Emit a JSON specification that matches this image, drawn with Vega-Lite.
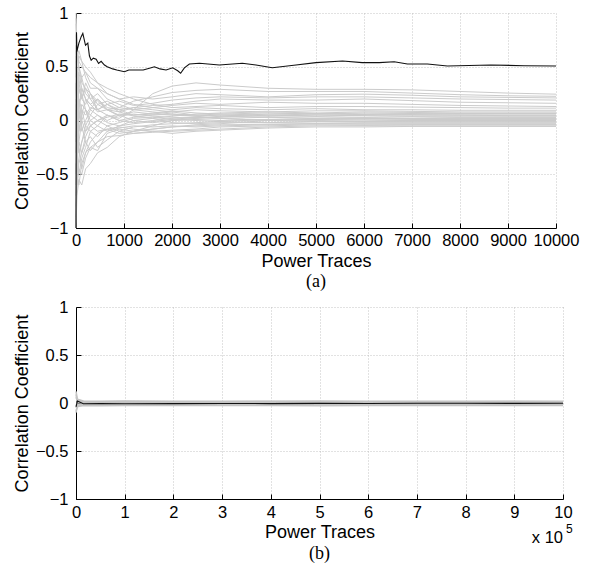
{
"$schema": "https://vega.github.io/schema/vega-lite/v6.json",
"background": "white",
"padding": {"left": 13, "top": 5, "right": 5, "bottom": 5},
"spacing": 8,
"config": {
  "view": {"stroke": null},
  "axis": {"domainColor": "black", "domainWidth": 1, "tickColor": "black", "tickSize": -5, "gridColor": "#b5b5b5", "gridDash": [1, 2], "gridWidth": 0.8,
    "labelFont": "Liberation Sans", "labelFontSize": 16.5, "labelColor": "black", "titleFont": "Liberation Sans", "titleFontSize": 18, "titleFontWeight": "normal", "titleColor": "black", "labelFlush": false}
},
"datasets": {
"topGray": [
{"s":"U1","x":0,"y":0.9},{"s":"U1","x":20,"y":0.5},{"s":"U1","x":60,"y":0.2},{"s":"U1","x":120,"y":0.0},{"s":"U1","x":200,"y":-0.1},{"s":"U1","x":300,"y":-0.05},{"s":"U1","x":450,"y":0.0},{"s":"U1","x":650,"y":0.05},{"s":"U1","x":900,"y":0.02},{"s":"U1","x":1200,"y":0.1},{"s":"U1","x":1600,"y":0.25},{"s":"U1","x":2000,"y":0.32},{"s":"U1","x":2500,"y":0.35},{"s":"U1","x":3000,"y":0.33},{"s":"U1","x":4000,"y":0.30},{"s":"U1","x":5000,"y":0.29},{"s":"U1","x":6000,"y":0.29},{"s":"U1","x":7000,"y":0.285},{"s":"U1","x":8000,"y":0.27},{"s":"U1","x":9000,"y":0.255},{"s":"U1","x":10000,"y":0.245},
{"s":"U2","x":0,"y":-0.6},{"s":"U2","x":20,"y":-0.2},{"s":"U2","x":60,"y":0.1},{"s":"U2","x":120,"y":0.3},{"s":"U2","x":200,"y":0.2},{"s":"U2","x":300,"y":0.15},{"s":"U2","x":450,"y":0.2},{"s":"U2","x":650,"y":0.1},{"s":"U2","x":900,"y":0.12},{"s":"U2","x":1200,"y":0.18},{"s":"U2","x":1600,"y":0.22},{"s":"U2","x":2000,"y":0.26},{"s":"U2","x":2500,"y":0.28},{"s":"U2","x":3000,"y":0.29},{"s":"U2","x":4000,"y":0.27},{"s":"U2","x":5000,"y":0.27},{"s":"U2","x":6000,"y":0.27},{"s":"U2","x":7000,"y":0.255},{"s":"U2","x":8000,"y":0.24},{"s":"U2","x":9000,"y":0.23},{"s":"U2","x":10000,"y":0.225},
{"s":"U3","x":0,"y":0.3},{"s":"U3","x":20,"y":0.6},{"s":"U3","x":60,"y":0.5},{"s":"U3","x":120,"y":0.4},{"s":"U3","x":200,"y":0.45},{"s":"U3","x":300,"y":0.35},{"s":"U3","x":450,"y":0.3},{"s":"U3","x":650,"y":0.25},{"s":"U3","x":900,"y":0.2},{"s":"U3","x":1200,"y":0.22},{"s":"U3","x":1600,"y":0.2},{"s":"U3","x":2000,"y":0.22},{"s":"U3","x":2500,"y":0.25},{"s":"U3","x":3000,"y":0.24},{"s":"U3","x":4000,"y":0.22},{"s":"U3","x":5000,"y":0.24},{"s":"U3","x":6000,"y":0.245},{"s":"U3","x":7000,"y":0.235},{"s":"U3","x":8000,"y":0.22},{"s":"U3","x":9000,"y":0.215},{"s":"U3","x":10000,"y":0.21},
{"s":"U4","x":0,"y":-1.0},{"s":"U4","x":20,"y":-0.4},{"s":"U4","x":60,"y":-0.1},{"s":"U4","x":120,"y":0.1},{"s":"U4","x":200,"y":0.05},{"s":"U4","x":300,"y":0.12},{"s":"U4","x":450,"y":0.1},{"s":"U4","x":650,"y":0.15},{"s":"U4","x":900,"y":0.18},{"s":"U4","x":1200,"y":0.14},{"s":"U4","x":1600,"y":0.16},{"s":"U4","x":2000,"y":0.19},{"s":"U4","x":2500,"y":0.21},{"s":"U4","x":3000,"y":0.22},{"s":"U4","x":4000,"y":0.21},{"s":"U4","x":5000,"y":0.22},{"s":"U4","x":6000,"y":0.22},{"s":"U4","x":7000,"y":0.21},{"s":"U4","x":8000,"y":0.2},{"s":"U4","x":9000,"y":0.195},{"s":"U4","x":10000,"y":0.19},
{"s":"U5","x":0,"y":0.7},{"s":"U5","x":20,"y":0.3},{"s":"U5","x":60,"y":0.4},{"s":"U5","x":120,"y":0.2},{"s":"U5","x":200,"y":0.3},{"s":"U5","x":300,"y":0.25},{"s":"U5","x":450,"y":0.18},{"s":"U5","x":650,"y":0.1},{"s":"U5","x":900,"y":0.08},{"s":"U5","x":1200,"y":0.12},{"s":"U5","x":1600,"y":0.14},{"s":"U5","x":2000,"y":0.15},{"s":"U5","x":2500,"y":0.18},{"s":"U5","x":3000,"y":0.2},{"s":"U5","x":4000,"y":0.19},{"s":"U5","x":5000,"y":0.19},{"s":"U5","x":6000,"y":0.2},{"s":"U5","x":7000,"y":0.185},{"s":"U5","x":8000,"y":0.17},{"s":"U5","x":9000,"y":0.165},{"s":"U5","x":10000,"y":0.16},
{"s":"U6","x":0,"y":0.1},{"s":"U6","x":20,"y":-0.3},{"s":"U6","x":60,"y":-0.2},{"s":"U6","x":120,"y":0.0},{"s":"U6","x":200,"y":0.1},{"s":"U6","x":300,"y":0.05},{"s":"U6","x":450,"y":0.15},{"s":"U6","x":650,"y":0.18},{"s":"U6","x":900,"y":0.12},{"s":"U6","x":1200,"y":0.1},{"s":"U6","x":1600,"y":0.12},{"s":"U6","x":2000,"y":0.14},{"s":"U6","x":2500,"y":0.16},{"s":"U6","x":3000,"y":0.15},{"s":"U6","x":4000,"y":0.17},{"s":"U6","x":5000,"y":0.16},{"s":"U6","x":6000,"y":0.16},{"s":"U6","x":7000,"y":0.15},{"s":"U6","x":8000,"y":0.14},{"s":"U6","x":9000,"y":0.135},{"s":"U6","x":10000,"y":0.13},
{"s":"U7","x":0,"y":1.0},{"s":"U7","x":20,"y":0.7},{"s":"U7","x":60,"y":0.55},{"s":"U7","x":120,"y":0.5},{"s":"U7","x":200,"y":0.45},{"s":"U7","x":300,"y":0.4},{"s":"U7","x":450,"y":0.35},{"s":"U7","x":650,"y":0.3},{"s":"U7","x":900,"y":0.25},{"s":"U7","x":1200,"y":0.2},{"s":"U7","x":1600,"y":0.15},{"s":"U7","x":2000,"y":0.12},{"s":"U7","x":2500,"y":0.13},{"s":"U7","x":3000,"y":0.14},{"s":"U7","x":4000,"y":0.12},{"s":"U7","x":5000,"y":0.13},{"s":"U7","x":6000,"y":0.13},{"s":"U7","x":7000,"y":0.125},{"s":"U7","x":8000,"y":0.12},{"s":"U7","x":9000,"y":0.115},{"s":"U7","x":10000,"y":0.115},
{"s":"D1","x":0,"y":-0.3},{"s":"D1","x":20,"y":0.2},{"s":"D1","x":60,"y":0.6},{"s":"D1","x":120,"y":0.55},{"s":"D1","x":200,"y":0.5},{"s":"D1","x":300,"y":0.45},{"s":"D1","x":450,"y":0.35},{"s":"D1","x":650,"y":0.25},{"s":"D1","x":900,"y":0.2},{"s":"D1","x":1200,"y":0.15},{"s":"D1","x":1600,"y":0.12},{"s":"D1","x":2000,"y":0.1},{"s":"D1","x":2500,"y":0.12},{"s":"D1","x":3000,"y":0.11},{"s":"D1","x":4000,"y":0.1},{"s":"D1","x":5000,"y":0.11},{"s":"D1","x":6000,"y":0.1},{"s":"D1","x":7000,"y":0.1},{"s":"D1","x":8000,"y":0.095},{"s":"D1","x":9000,"y":0.095},{"s":"D1","x":10000,"y":0.095},
{"s":"D2","x":0,"y":0.5},{"s":"D2","x":20,"y":0.4},{"s":"D2","x":60,"y":0.1},{"s":"D2","x":120,"y":-0.1},{"s":"D2","x":200,"y":0.0},{"s":"D2","x":300,"y":0.1},{"s":"D2","x":450,"y":0.05},{"s":"D2","x":650,"y":0.0},{"s":"D2","x":900,"y":0.05},{"s":"D2","x":1200,"y":0.08},{"s":"D2","x":1600,"y":0.06},{"s":"D2","x":2000,"y":0.08},{"s":"D2","x":2500,"y":0.1},{"s":"D2","x":3000,"y":0.09},{"s":"D2","x":4000,"y":0.08},{"s":"D2","x":5000,"y":0.09},{"s":"D2","x":6000,"y":0.09},{"s":"D2","x":7000,"y":0.085},{"s":"D2","x":8000,"y":0.08},{"s":"D2","x":9000,"y":0.08},{"s":"D2","x":10000,"y":0.08},
{"s":"D3","x":0,"y":-0.8},{"s":"D3","x":20,"y":-0.5},{"s":"D3","x":60,"y":-0.6},{"s":"D3","x":120,"y":-0.4},{"s":"D3","x":200,"y":-0.3},{"s":"D3","x":300,"y":-0.25},{"s":"D3","x":450,"y":-0.2},{"s":"D3","x":650,"y":-0.1},{"s":"D3","x":900,"y":-0.05},{"s":"D3","x":1200,"y":0.0},{"s":"D3","x":1600,"y":0.02},{"s":"D3","x":2000,"y":0.04},{"s":"D3","x":2500,"y":0.06},{"s":"D3","x":3000,"y":0.07},{"s":"D3","x":4000,"y":0.08},{"s":"D3","x":5000,"y":0.07},{"s":"D3","x":6000,"y":0.08},{"s":"D3","x":7000,"y":0.075},{"s":"D3","x":8000,"y":0.07},{"s":"D3","x":9000,"y":0.07},{"s":"D3","x":10000,"y":0.07},
{"s":"D4","x":0,"y":0.95},{"s":"D4","x":20,"y":0.6},{"s":"D4","x":60,"y":0.65},{"s":"D4","x":120,"y":0.55},{"s":"D4","x":200,"y":0.4},{"s":"D4","x":300,"y":0.3},{"s":"D4","x":450,"y":0.3},{"s":"D4","x":650,"y":0.2},{"s":"D4","x":900,"y":0.15},{"s":"D4","x":1200,"y":0.1},{"s":"D4","x":1600,"y":0.08},{"s":"D4","x":2000,"y":0.06},{"s":"D4","x":2500,"y":0.05},{"s":"D4","x":3000,"y":0.06},{"s":"D4","x":4000,"y":0.07},{"s":"D4","x":5000,"y":0.06},{"s":"D4","x":6000,"y":0.07},{"s":"D4","x":7000,"y":0.065},{"s":"D4","x":8000,"y":0.06},{"s":"D4","x":9000,"y":0.06},{"s":"D4","x":10000,"y":0.06},
{"s":"D5","x":0,"y":-0.9},{"s":"D5","x":20,"y":-0.6},{"s":"D5","x":60,"y":-0.45},{"s":"D5","x":120,"y":-0.5},{"s":"D5","x":200,"y":-0.35},{"s":"D5","x":300,"y":-0.25},{"s":"D5","x":450,"y":-0.28},{"s":"D5","x":650,"y":-0.12},{"s":"D5","x":900,"y":-0.08},{"s":"D5","x":1200,"y":-0.1},{"s":"D5","x":1600,"y":-0.05},{"s":"D5","x":2000,"y":0.0},{"s":"D5","x":2500,"y":0.02},{"s":"D5","x":3000,"y":0.03},{"s":"D5","x":4000,"y":0.05},{"s":"D5","x":5000,"y":0.04},{"s":"D5","x":6000,"y":0.05},{"s":"D5","x":7000,"y":0.055},{"s":"D5","x":8000,"y":0.05},{"s":"D5","x":9000,"y":0.05},{"s":"D5","x":10000,"y":0.05},
{"s":"D6","x":0,"y":0.2},{"s":"D6","x":20,"y":0.0},{"s":"D6","x":60,"y":0.3},{"s":"D6","x":120,"y":0.4},{"s":"D6","x":200,"y":0.25},{"s":"D6","x":300,"y":0.2},{"s":"D6","x":450,"y":0.1},{"s":"D6","x":650,"y":0.15},{"s":"D6","x":900,"y":0.1},{"s":"D6","x":1200,"y":0.05},{"s":"D6","x":1600,"y":0.06},{"s":"D6","x":2000,"y":0.05},{"s":"D6","x":2500,"y":0.04},{"s":"D6","x":3000,"y":0.05},{"s":"D6","x":4000,"y":0.04},{"s":"D6","x":5000,"y":0.05},{"s":"D6","x":6000,"y":0.045},{"s":"D6","x":7000,"y":0.04},{"s":"D6","x":8000,"y":0.04},{"s":"D6","x":9000,"y":0.04},{"s":"D6","x":10000,"y":0.04},
{"s":"D7","x":0,"y":-0.5},{"s":"D7","x":20,"y":0.3},{"s":"D7","x":60,"y":0.45},{"s":"D7","x":120,"y":0.3},{"s":"D7","x":200,"y":0.2},{"s":"D7","x":300,"y":0.1},{"s":"D7","x":450,"y":0.2},{"s":"D7","x":650,"y":0.12},{"s":"D7","x":900,"y":0.1},{"s":"D7","x":1200,"y":0.12},{"s":"D7","x":1600,"y":0.1},{"s":"D7","x":2000,"y":0.08},{"s":"D7","x":2500,"y":0.05},{"s":"D7","x":3000,"y":0.04},{"s":"D7","x":4000,"y":0.03},{"s":"D7","x":5000,"y":0.035},{"s":"D7","x":6000,"y":0.03},{"s":"D7","x":7000,"y":0.035},{"s":"D7","x":8000,"y":0.03},{"s":"D7","x":9000,"y":0.03},{"s":"D7","x":10000,"y":0.03},
{"s":"D8","x":0,"y":0.6},{"s":"D8","x":20,"y":-0.1},{"s":"D8","x":60,"y":-0.3},{"s":"D8","x":120,"y":-0.2},{"s":"D8","x":200,"y":-0.1},{"s":"D8","x":300,"y":0.0},{"s":"D8","x":450,"y":-0.05},{"s":"D8","x":650,"y":0.05},{"s":"D8","x":900,"y":0.0},{"s":"D8","x":1200,"y":-0.02},{"s":"D8","x":1600,"y":0.0},{"s":"D8","x":2000,"y":0.02},{"s":"D8","x":2500,"y":0.03},{"s":"D8","x":3000,"y":0.02},{"s":"D8","x":4000,"y":0.03},{"s":"D8","x":5000,"y":0.02},{"s":"D8","x":6000,"y":0.025},{"s":"D8","x":7000,"y":0.02},{"s":"D8","x":8000,"y":0.02},{"s":"D8","x":9000,"y":0.02},{"s":"D8","x":10000,"y":0.02},
{"s":"D9","x":0,"y":-1.0},{"s":"D9","x":20,"y":-0.7},{"s":"D9","x":60,"y":-0.55},{"s":"D9","x":120,"y":-0.6},{"s":"D9","x":200,"y":-0.45},{"s":"D9","x":300,"y":-0.4},{"s":"D9","x":450,"y":-0.3},{"s":"D9","x":650,"y":-0.25},{"s":"D9","x":900,"y":-0.15},{"s":"D9","x":1200,"y":-0.1},{"s":"D9","x":1600,"y":-0.08},{"s":"D9","x":2000,"y":-0.06},{"s":"D9","x":2500,"y":-0.04},{"s":"D9","x":3000,"y":-0.03},{"s":"D9","x":4000,"y":0.0},{"s":"D9","x":5000,"y":0.01},{"s":"D9","x":6000,"y":0.015},{"s":"D9","x":7000,"y":0.01},{"s":"D9","x":8000,"y":0.01},{"s":"D9","x":9000,"y":0.01},{"s":"D9","x":10000,"y":0.01},
{"s":"D10","x":0,"y":0.8},{"s":"D10","x":20,"y":0.5},{"s":"D10","x":60,"y":0.3},{"s":"D10","x":120,"y":0.2},{"s":"D10","x":200,"y":0.35},{"s":"D10","x":300,"y":0.25},{"s":"D10","x":450,"y":0.15},{"s":"D10","x":650,"y":0.1},{"s":"D10","x":900,"y":0.05},{"s":"D10","x":1200,"y":0.0},{"s":"D10","x":1600,"y":-0.02},{"s":"D10","x":2000,"y":0.0},{"s":"D10","x":2500,"y":0.01},{"s":"D10","x":3000,"y":0.0},{"s":"D10","x":4000,"y":0.01},{"s":"D10","x":5000,"y":0.0},{"s":"D10","x":6000,"y":0.005},{"s":"D10","x":7000,"y":0.0},{"s":"D10","x":8000,"y":0.0},{"s":"D10","x":9000,"y":0.0},{"s":"D10","x":10000,"y":0.0},
{"s":"D11","x":0,"y":0.0},{"s":"D11","x":20,"y":-0.4},{"s":"D11","x":60,"y":-0.2},{"s":"D11","x":120,"y":-0.3},{"s":"D11","x":200,"y":-0.15},{"s":"D11","x":300,"y":-0.05},{"s":"D11","x":450,"y":0.0},{"s":"D11","x":650,"y":-0.05},{"s":"D11","x":900,"y":-0.1},{"s":"D11","x":1200,"y":-0.06},{"s":"D11","x":1600,"y":-0.04},{"s":"D11","x":2000,"y":-0.03},{"s":"D11","x":2500,"y":-0.02},{"s":"D11","x":3000,"y":-0.01},{"s":"D11","x":4000,"y":-0.02},{"s":"D11","x":5000,"y":-0.01},{"s":"D11","x":6000,"y":-0.01},{"s":"D11","x":7000,"y":-0.01},{"s":"D11","x":8000,"y":-0.01},{"s":"D11","x":9000,"y":-0.01},{"s":"D11","x":10000,"y":-0.01},
{"s":"D12","x":0,"y":0.4},{"s":"D12","x":20,"y":0.65},{"s":"D12","x":60,"y":0.5},{"s":"D12","x":120,"y":0.35},{"s":"D12","x":200,"y":0.3},{"s":"D12","x":300,"y":0.2},{"s":"D12","x":450,"y":0.25},{"s":"D12","x":650,"y":0.15},{"s":"D12","x":900,"y":0.08},{"s":"D12","x":1200,"y":0.04},{"s":"D12","x":1600,"y":0.02},{"s":"D12","x":2000,"y":-0.02},{"s":"D12","x":2500,"y":-0.03},{"s":"D12","x":3000,"y":-0.02},{"s":"D12","x":4000,"y":-0.02},{"s":"D12","x":5000,"y":-0.025},{"s":"D12","x":6000,"y":-0.02},{"s":"D12","x":7000,"y":-0.02},{"s":"D12","x":8000,"y":-0.02},{"s":"D12","x":9000,"y":-0.02},{"s":"D12","x":10000,"y":-0.02},
{"s":"D13","x":0,"y":-0.7},{"s":"D13","x":20,"y":-0.2},{"s":"D13","x":60,"y":0.0},{"s":"D13","x":120,"y":0.15},{"s":"D13","x":200,"y":0.1},{"s":"D13","x":300,"y":-0.05},{"s":"D13","x":450,"y":-0.1},{"s":"D13","x":650,"y":-0.08},{"s":"D13","x":900,"y":-0.12},{"s":"D13","x":1200,"y":-0.1},{"s":"D13","x":1600,"y":-0.08},{"s":"D13","x":2000,"y":-0.06},{"s":"D13","x":2500,"y":-0.05},{"s":"D13","x":3000,"y":-0.04},{"s":"D13","x":4000,"y":-0.035},{"s":"D13","x":5000,"y":-0.03},{"s":"D13","x":6000,"y":-0.03},{"s":"D13","x":7000,"y":-0.03},{"s":"D13","x":8000,"y":-0.03},{"s":"D13","x":9000,"y":-0.03},{"s":"D13","x":10000,"y":-0.03},
{"s":"D14","x":0,"y":0.65},{"s":"D14","x":20,"y":0.2},{"s":"D14","x":60,"y":0.1},{"s":"D14","x":120,"y":-0.05},{"s":"D14","x":200,"y":-0.2},{"s":"D14","x":300,"y":-0.15},{"s":"D14","x":450,"y":-0.25},{"s":"D14","x":650,"y":-0.18},{"s":"D14","x":900,"y":-0.1},{"s":"D14","x":1200,"y":-0.12},{"s":"D14","x":1600,"y":-0.1},{"s":"D14","x":2000,"y":-0.09},{"s":"D14","x":2500,"y":-0.08},{"s":"D14","x":3000,"y":-0.06},{"s":"D14","x":4000,"y":-0.05},{"s":"D14","x":5000,"y":-0.04},{"s":"D14","x":6000,"y":-0.045},{"s":"D14","x":7000,"y":-0.04},{"s":"D14","x":8000,"y":-0.04},{"s":"D14","x":9000,"y":-0.04},{"s":"D14","x":10000,"y":-0.04},
{"s":"D15","x":0,"y":-0.4},{"s":"D15","x":20,"y":-0.6},{"s":"D15","x":60,"y":-0.4},{"s":"D15","x":120,"y":-0.3},{"s":"D15","x":200,"y":-0.2},{"s":"D15","x":300,"y":-0.28},{"s":"D15","x":450,"y":-0.2},{"s":"D15","x":650,"y":-0.15},{"s":"D15","x":900,"y":-0.14},{"s":"D15","x":1200,"y":-0.12},{"s":"D15","x":1600,"y":-0.11},{"s":"D15","x":2000,"y":-0.1},{"s":"D15","x":2500,"y":-0.09},{"s":"D15","x":3000,"y":-0.08},{"s":"D15","x":4000,"y":-0.06},{"s":"D15","x":5000,"y":-0.05},{"s":"D15","x":6000,"y":-0.05},{"s":"D15","x":7000,"y":-0.05},{"s":"D15","x":8000,"y":-0.05},{"s":"D15","x":9000,"y":-0.05},{"s":"D15","x":10000,"y":-0.05},
{"s":"D16","x":0,"y":0.3},{"s":"D16","x":20,"y":0.1},{"s":"D16","x":60,"y":-0.25},{"s":"D16","x":120,"y":-0.45},{"s":"D16","x":200,"y":-0.3},{"s":"D16","x":300,"y":-0.2},{"s":"D16","x":450,"y":-0.12},{"s":"D16","x":650,"y":-0.08},{"s":"D16","x":900,"y":-0.06},{"s":"D16","x":1200,"y":-0.08},{"s":"D16","x":1600,"y":-0.1},{"s":"D16","x":2000,"y":-0.12},{"s":"D16","x":2500,"y":-0.1},{"s":"D16","x":3000,"y":-0.09},{"s":"D16","x":4000,"y":-0.07},{"s":"D16","x":5000,"y":-0.06},{"s":"D16","x":6000,"y":-0.06},{"s":"D16","x":7000,"y":-0.055},{"s":"D16","x":8000,"y":-0.055},{"s":"D16","x":9000,"y":-0.055},{"s":"D16","x":10000,"y":-0.055},
{"s":"D17","x":0,"y":-0.2},{"s":"D17","x":20,"y":0.45},{"s":"D17","x":60,"y":0.3},{"s":"D17","x":120,"y":0.2},{"s":"D17","x":200,"y":0.15},{"s":"D17","x":300,"y":0.25},{"s":"D17","x":450,"y":0.1},{"s":"D17","x":650,"y":0.05},{"s":"D17","x":900,"y":0.0},{"s":"D17","x":1200,"y":0.03},{"s":"D17","x":1600,"y":0.05},{"s":"D17","x":2000,"y":0.06},{"s":"D17","x":2500,"y":0.04},{"s":"D17","x":3000,"y":0.02},{"s":"D17","x":4000,"y":0.0},{"s":"D17","x":5000,"y":0.01},{"s":"D17","x":6000,"y":0.015},{"s":"D17","x":7000,"y":0.02},{"s":"D17","x":8000,"y":0.025},{"s":"D17","x":9000,"y":0.025},{"s":"D17","x":10000,"y":0.025},
{"s":"D18","x":0,"y":0.15},{"s":"D18","x":20,"y":-0.3},{"s":"D18","x":60,"y":-0.5},{"s":"D18","x":120,"y":-0.35},{"s":"D18","x":200,"y":-0.25},{"s":"D18","x":300,"y":-0.1},{"s":"D18","x":450,"y":-0.15},{"s":"D18","x":650,"y":-0.05},{"s":"D18","x":900,"y":-0.02},{"s":"D18","x":1200,"y":0.02},{"s":"D18","x":1600,"y":0.03},{"s":"D18","x":2000,"y":0.01},{"s":"D18","x":2500,"y":0.0},{"s":"D18","x":3000,"y":-0.01},{"s":"D18","x":4000,"y":0.01},{"s":"D18","x":5000,"y":0.02},{"s":"D18","x":6000,"y":0.02},{"s":"D18","x":7000,"y":0.015},{"s":"D18","x":8000,"y":0.015},{"s":"D18","x":9000,"y":0.015},{"s":"D18","x":10000,"y":0.015},
{"s":"D19","x":0,"y":-0.95},{"s":"D19","x":20,"y":-0.3},{"s":"D19","x":60,"y":0.2},{"s":"D19","x":120,"y":0.1},{"s":"D19","x":200,"y":-0.05},{"s":"D19","x":300,"y":0.05},{"s":"D19","x":450,"y":0.0},{"s":"D19","x":650,"y":0.03},{"s":"D19","x":900,"y":0.06},{"s":"D19","x":1200,"y":0.05},{"s":"D19","x":1600,"y":0.07},{"s":"D19","x":2000,"y":0.09},{"s":"D19","x":2500,"y":0.07},{"s":"D19","x":3000,"y":0.06},{"s":"D19","x":4000,"y":0.05},{"s":"D19","x":5000,"y":0.06},{"s":"D19","x":6000,"y":0.055},{"s":"D19","x":7000,"y":0.05},{"s":"D19","x":8000,"y":0.05},{"s":"D19","x":9000,"y":0.045},{"s":"D19","x":10000,"y":0.045},
{"s":"D20","x":0,"y":0.55},{"s":"D20","x":20,"y":0.35},{"s":"D20","x":60,"y":0.15},{"s":"D20","x":120,"y":0.25},{"s":"D20","x":200,"y":0.1},{"s":"D20","x":300,"y":0.0},{"s":"D20","x":450,"y":0.05},{"s":"D20","x":650,"y":-0.02},{"s":"D20","x":900,"y":-0.05},{"s":"D20","x":1200,"y":-0.03},{"s":"D20","x":1600,"y":-0.01},{"s":"D20","x":2000,"y":0.01},{"s":"D20","x":2500,"y":0.03},{"s":"D20","x":3000,"y":0.02},{"s":"D20","x":4000,"y":0.0},{"s":"D20","x":5000,"y":-0.01},{"s":"D20","x":6000,"y":-0.005},{"s":"D20","x":7000,"y":0.0},{"s":"D20","x":8000,"y":0.005},{"s":"D20","x":9000,"y":0.005},{"s":"D20","x":10000,"y":0.005},
{"s":"D21","x":0,"y":-0.15},{"s":"D21","x":20,"y":0.1},{"s":"D21","x":60,"y":-0.1},{"s":"D21","x":120,"y":0.05},{"s":"D21","x":200,"y":0.2},{"s":"D21","x":300,"y":0.15},{"s":"D21","x":450,"y":0.08},{"s":"D21","x":650,"y":0.1},{"s":"D21","x":900,"y":0.04},{"s":"D21","x":1200,"y":0.06},{"s":"D21","x":1600,"y":0.04},{"s":"D21","x":2000,"y":0.03},{"s":"D21","x":2500,"y":0.02},{"s":"D21","x":3000,"y":0.04},{"s":"D21","x":4000,"y":0.06},{"s":"D21","x":5000,"y":0.065},{"s":"D21","x":6000,"y":0.06},{"s":"D21","x":7000,"y":0.06},{"s":"D21","x":8000,"y":0.065},{"s":"D21","x":9000,"y":0.065},{"s":"D21","x":10000,"y":0.065},
{"s":"D22","x":0,"y":0.35},{"s":"D22","x":20,"y":-0.5},{"s":"D22","x":60,"y":-0.35},{"s":"D22","x":120,"y":-0.2},{"s":"D22","x":200,"y":-0.05},{"s":"D22","x":300,"y":-0.1},{"s":"D22","x":450,"y":-0.05},{"s":"D22","x":650,"y":-0.1},{"s":"D22","x":900,"y":-0.07},{"s":"D22","x":1200,"y":-0.05},{"s":"D22","x":1600,"y":-0.06},{"s":"D22","x":2000,"y":-0.05},{"s":"D22","x":2500,"y":-0.06},{"s":"D22","x":3000,"y":-0.05},{"s":"D22","x":4000,"y":-0.04},{"s":"D22","x":5000,"y":-0.03},{"s":"D22","x":6000,"y":-0.035},{"s":"D22","x":7000,"y":-0.035},{"s":"D22","x":8000,"y":-0.035},{"s":"D22","x":9000,"y":-0.035},{"s":"D22","x":10000,"y":-0.035}
],
"topBlack": [
{"x":0,"y":-1},{"x":10,"y":0.82},{"x":17,"y":0.64},{"x":60,"y":0.72},{"x":108,"y":0.78},{"x":142,"y":0.81},{"x":198,"y":0.70},{"x":246,"y":0.72},{"x":280,"y":0.6},{"x":316,"y":0.56},{"x":360,"y":0.58},{"x":420,"y":0.57},{"x":470,"y":0.53},{"x":524,"y":0.55},{"x":593,"y":0.516},{"x":650,"y":0.5},{"x":766,"y":0.48},{"x":850,"y":0.47},{"x":1009,"y":0.454},{"x":1100,"y":0.47},{"x":1253,"y":0.47},{"x":1400,"y":0.47},{"x":1530,"y":0.486},{"x":1634,"y":0.5},{"x":1750,"y":0.48},{"x":1877,"y":0.47},{"x":2015,"y":0.49},{"x":2119,"y":0.463},{"x":2180,"y":0.44},{"x":2258,"y":0.49},{"x":2362,"y":0.526},{"x":2570,"y":0.532},{"x":2986,"y":0.516},{"x":3465,"y":0.532},{"x":3750,"y":0.516},{"x":4090,"y":0.491},{"x":4583,"y":0.516},{"x":4999,"y":0.538},{"x":5553,"y":0.553},{"x":5963,"y":0.538},{"x":6316,"y":0.538},{"x":6629,"y":0.547},{"x":6905,"y":0.526},{"x":7322,"y":0.526},{"x":7738,"y":0.507},{"x":8641,"y":0.516},{"x":9334,"y":0.51},{"x":10000,"y":0.507}
],
"botGray": [
{"s":"B1","x":0,"y":0.12},{"s":"B1","x":3000,"y":0.04},{"s":"B1","x":15000,"y":0.02},{"s":"B1","x":50000,"y":0.018},{"s":"B1","x":100000,"y":0.02},{"s":"B1","x":200000,"y":0.017},{"s":"B1","x":300000,"y":0.019},{"s":"B1","x":400000,"y":0.018},{"s":"B1","x":500000,"y":0.02},{"s":"B1","x":600000,"y":0.018},{"s":"B1","x":700000,"y":0.017},{"s":"B1","x":800000,"y":0.019},{"s":"B1","x":900000,"y":0.018},{"s":"B1","x":1000000,"y":0.018},
{"s":"B2","x":0,"y":-0.1},{"s":"B2","x":3000,"y":-0.03},{"s":"B2","x":15000,"y":-0.025},{"s":"B2","x":50000,"y":-0.028},{"s":"B2","x":100000,"y":-0.026},{"s":"B2","x":200000,"y":-0.027},{"s":"B2","x":300000,"y":-0.025},{"s":"B2","x":400000,"y":-0.026},{"s":"B2","x":500000,"y":-0.028},{"s":"B2","x":600000,"y":-0.027},{"s":"B2","x":700000,"y":-0.026},{"s":"B2","x":800000,"y":-0.025},{"s":"B2","x":900000,"y":-0.027},{"s":"B2","x":1000000,"y":-0.026},
{"s":"B3","x":0,"y":0.06},{"s":"B3","x":3000,"y":0.02},{"s":"B3","x":15000,"y":0.01},{"s":"B3","x":50000,"y":0.008},{"s":"B3","x":100000,"y":0.01},{"s":"B3","x":200000,"y":0.012},{"s":"B3","x":300000,"y":0.01},{"s":"B3","x":400000,"y":0.009},{"s":"B3","x":500000,"y":0.011},{"s":"B3","x":600000,"y":0.01},{"s":"B3","x":700000,"y":0.008},{"s":"B3","x":800000,"y":0.01},{"s":"B3","x":900000,"y":0.009},{"s":"B3","x":1000000,"y":0.01},
{"s":"B4","x":0,"y":-0.05},{"s":"B4","x":3000,"y":-0.02},{"s":"B4","x":15000,"y":-0.015},{"s":"B4","x":50000,"y":-0.012},{"s":"B4","x":100000,"y":-0.014},{"s":"B4","x":200000,"y":-0.013},{"s":"B4","x":300000,"y":-0.015},{"s":"B4","x":400000,"y":-0.014},{"s":"B4","x":500000,"y":-0.012},{"s":"B4","x":600000,"y":-0.013},{"s":"B4","x":700000,"y":-0.014},{"s":"B4","x":800000,"y":-0.015},{"s":"B4","x":900000,"y":-0.013},{"s":"B4","x":1000000,"y":-0.014},
{"s":"B5","x":0,"y":0.09},{"s":"B5","x":3000,"y":0.0},{"s":"B5","x":15000,"y":0.005},{"s":"B5","x":50000,"y":0.002},{"s":"B5","x":100000,"y":0.004},{"s":"B5","x":200000,"y":0.001},{"s":"B5","x":300000,"y":0.003},{"s":"B5","x":400000,"y":0.002},{"s":"B5","x":500000,"y":0.004},{"s":"B5","x":600000,"y":0.003},{"s":"B5","x":700000,"y":0.002},{"s":"B5","x":800000,"y":0.001},{"s":"B5","x":900000,"y":0.003},{"s":"B5","x":1000000,"y":0.002},
{"s":"B6","x":0,"y":-0.08},{"s":"B6","x":3000,"y":-0.04},{"s":"B6","x":15000,"y":-0.02},{"s":"B6","x":50000,"y":-0.02},{"s":"B6","x":100000,"y":-0.019},{"s":"B6","x":200000,"y":-0.02},{"s":"B6","x":300000,"y":-0.021},{"s":"B6","x":400000,"y":-0.02},{"s":"B6","x":500000,"y":-0.019},{"s":"B6","x":600000,"y":-0.02},{"s":"B6","x":700000,"y":-0.021},{"s":"B6","x":800000,"y":-0.02},{"s":"B6","x":900000,"y":-0.02},{"s":"B6","x":1000000,"y":-0.02},
{"s":"B7","x":0,"y":0.03},{"s":"B7","x":3000,"y":0.03},{"s":"B7","x":15000,"y":0.015},{"s":"B7","x":50000,"y":0.014},{"s":"B7","x":100000,"y":0.015},{"s":"B7","x":200000,"y":0.013},{"s":"B7","x":300000,"y":0.014},{"s":"B7","x":400000,"y":0.015},{"s":"B7","x":500000,"y":0.013},{"s":"B7","x":600000,"y":0.014},{"s":"B7","x":700000,"y":0.013},{"s":"B7","x":800000,"y":0.014},{"s":"B7","x":900000,"y":0.015},{"s":"B7","x":1000000,"y":0.014},
{"s":"B8","x":0,"y":-0.03},{"s":"B8","x":3000,"y":0.01},{"s":"B8","x":15000,"y":-0.005},{"s":"B8","x":50000,"y":-0.006},{"s":"B8","x":100000,"y":-0.004},{"s":"B8","x":200000,"y":-0.006},{"s":"B8","x":300000,"y":-0.005},{"s":"B8","x":400000,"y":-0.007},{"s":"B8","x":500000,"y":-0.005},{"s":"B8","x":600000,"y":-0.006},{"s":"B8","x":700000,"y":-0.004},{"s":"B8","x":800000,"y":-0.005},{"s":"B8","x":900000,"y":-0.006},{"s":"B8","x":1000000,"y":-0.005}
],
"botBlack": [
{"x":0,"y":-0.04},{"x":3000,"y":0.02},{"x":15000,"y":-0.008},{"x":50000,"y":-0.006},{"x":100000,"y":-0.008},{"x":200000,"y":-0.007},{"x":300000,"y":-0.005},{"x":400000,"y":-0.006},{"x":500000,"y":-0.004},{"x":600000,"y":-0.005},{"x":700000,"y":-0.003},{"x":800000,"y":-0.002},{"x":900000,"y":-0.004},{"x":1000000,"y":-0.003}
],
"expLabel": [{"t": "x 10", "x": 1000000, "y": -1}],
"expSup": [{"t": "5", "x": 1000000, "y": -1}]
},
"vconcat": [
{
  "width": 480, "height": 215,
  "title": {"text": "(a)", "orient": "bottom", "font": "Liberation Serif", "fontSize": 18, "fontWeight": "normal", "color": "black", "anchor": "middle", "frame": "group", "offset": 2},
  "layer": [
    {"data": {"name": "topGray"}, "mark": {"type": "line", "stroke": "#cbcbcb", "strokeWidth": 1},
     "encoding": {
       "x": {"field": "x", "type": "quantitative", "scale": {"domain": [0, 10000], "nice": false, "zero": false},
             "axis": {"values": [0,1000,2000,3000,4000,5000,6000,7000,8000,9000,10000], "format": "d", "title": "Power Traces", "grid": true, "labelPadding": 9, "titlePadding": 4}},
       "y": {"field": "y", "type": "quantitative", "scale": {"domain": [-1, 1], "nice": false},
             "axis": {"values": [-1,-0.5,0,0.5,1], "format": "~g", "title": "Correlation Coefficient", "grid": true, "labelPadding": 13, "titlePadding": 4}},
       "detail": {"field": "s"}}},
    {"data": {"name": "topBlack"}, "mark": {"type": "line", "stroke": "#111111", "strokeWidth": 1.1},
     "encoding": {"x": {"field": "x", "type": "quantitative"}, "y": {"field": "y", "type": "quantitative"}}}
  ]
},
{
  "width": 487, "height": 192,
  "title": {"text": "(b)", "orient": "bottom", "font": "Liberation Serif", "fontSize": 18, "fontWeight": "normal", "color": "black", "anchor": "middle", "frame": "group", "offset": -2},
  "layer": [
    {"data": {"name": "botGray"}, "mark": {"type": "line", "stroke": "#c4c4c4", "strokeWidth": 1.5},
     "encoding": {
       "x": {"field": "x", "type": "quantitative", "scale": {"domain": [0, 1000000], "nice": false, "zero": false},
             "axis": {"values": [0,100000,200000,300000,400000,500000,600000,700000,800000,900000,1000000], "labelExpr": "datum.value / 100000", "title": "Power Traces", "grid": true, "labelPadding": 10, "titlePadding": 3}},
       "y": {"field": "y", "type": "quantitative", "scale": {"domain": [-1, 1], "nice": false},
             "axis": {"values": [-1,-0.5,0,0.5,1], "format": "~g", "title": "Correlation Coefficient", "grid": true, "labelPadding": 13, "titlePadding": 4}},
       "detail": {"field": "s"}}},
    {"data": {"name": "botBlack"}, "mark": {"type": "line", "stroke": "#111111", "strokeWidth": 1.1},
     "encoding": {"x": {"field": "x", "type": "quantitative"}, "y": {"field": "y", "type": "quantitative"}}},
    {"data": {"name": "expLabel"}, "mark": {"type": "text", "align": "right", "baseline": "middle", "dy": 39, "font": "Liberation Sans", "fontSize": 16.5, "color": "black"},
     "encoding": {"x": {"field": "x", "type": "quantitative"}, "y": {"field": "y", "type": "quantitative"}, "text": {"field": "t"}}},
    {"data": {"name": "expSup"}, "mark": {"type": "text", "align": "left", "baseline": "middle", "dx": 3, "dy": 30, "font": "Liberation Sans", "fontSize": 12, "color": "black"},
     "encoding": {"x": {"field": "x", "type": "quantitative"}, "y": {"field": "y", "type": "quantitative"}, "text": {"field": "t"}}}
  ]
}
]
}
